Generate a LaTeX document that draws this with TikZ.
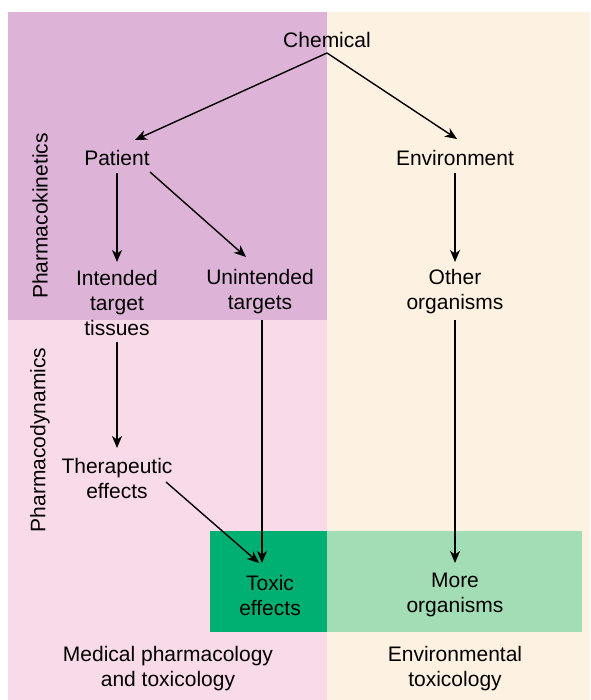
\documentclass[tikz,border=0pt]{standalone}
\usepackage{fontspec}
\setmainfont{Liberation Sans}
\usetikzlibrary{arrows.meta}
\definecolor{pkpurple}{RGB}{221,180,216}
\definecolor{pdpink}{RGB}{249,218,233}
\definecolor{envbeige}{RGB}{253,242,226}
\definecolor{toxgreen}{RGB}{0,176,114}
\definecolor{moregreen}{RGB}{163,221,182}
\begin{document}
\begin{tikzpicture}[x=1pt,y=-1pt,
  txt/.style={inner sep=0pt,align=center,font=\fontsize{21}{25}\selectfont},
  arr/.style={line width=1.4pt,-{Stealth[length=12pt,width=10pt,inset=3.5pt]}}]
\useasboundingbox (0,0) rectangle (590,700);
\fill[white] (0,0) rectangle (590,700);
% regions
\fill[pkpurple] (8,12) rectangle (327,320);
\fill[pdpink] (8,320) rectangle (327,700);
\fill[envbeige] (327,12) rectangle (590,700);
\fill[moregreen] (327,531) rectangle (582,632);
\fill[toxgreen] (210,531) rectangle (327,632);
% side labels
\node[txt,rotate=90] (pk) at (40,216) {Pharmacokinetics};
\node[txt,rotate=90] (pd) at (40,440) {Pharmacodynamics};
% nodes
\node[txt] (chem) at (327,40) {Chemical};
\node[txt] (pat) at (117,158) {Patient};
\node[txt] (env) at (455,158) {Environment};
\node[txt] (int) at (117,303) {Intended\\target\\tissues};
\node[txt] (unint) at (260,292) {Unintended\\targets};
\node[txt] (other) at (455,292) {Other\\organisms};
\node[txt] (ther) at (117,478) {Therapeutic\\effects};
\node[txt] (tox) at (270,595) {Toxic\\effects};
\node[txt] (more) at (455,595) {More\\organisms};
\node[txt] (med) at (168,669) {Medical pharmacology\\and toxicology};
\node[txt] (envtox) at (455,669) {Environmental\\toxicology};
% connectors
\draw[arr] ([yshift=-13]chem.center) -- ([xshift=18,yshift=18]pat.center);
\draw[arr] ([yshift=-13]chem.center) -- ([xshift=2,yshift=19]env.center);
\draw[arr] ([yshift=-15]pat.center) -- ([yshift=41]int.center);
\draw[arr] ([xshift=33,yshift=-14]pat.center) -- ([xshift=-14,yshift=35]unint.center);
\draw[arr] ([yshift=-15]env.center) -- ([yshift=30]other.center);
\draw[arr] ([yshift=-39]int.center) -- ([yshift=30]ther.center);
\draw[arr] ([xshift=2,yshift=-28]unint.center) -- ([xshift=-8,yshift=32]tox.center);
\draw[arr] ([xshift=49,yshift=-4]ther.center) -- ([xshift=-11,yshift=32]tox.center);
\draw[arr] ([yshift=-28]other.center) -- ([yshift=32]more.center);
\end{tikzpicture}
\end{document}
